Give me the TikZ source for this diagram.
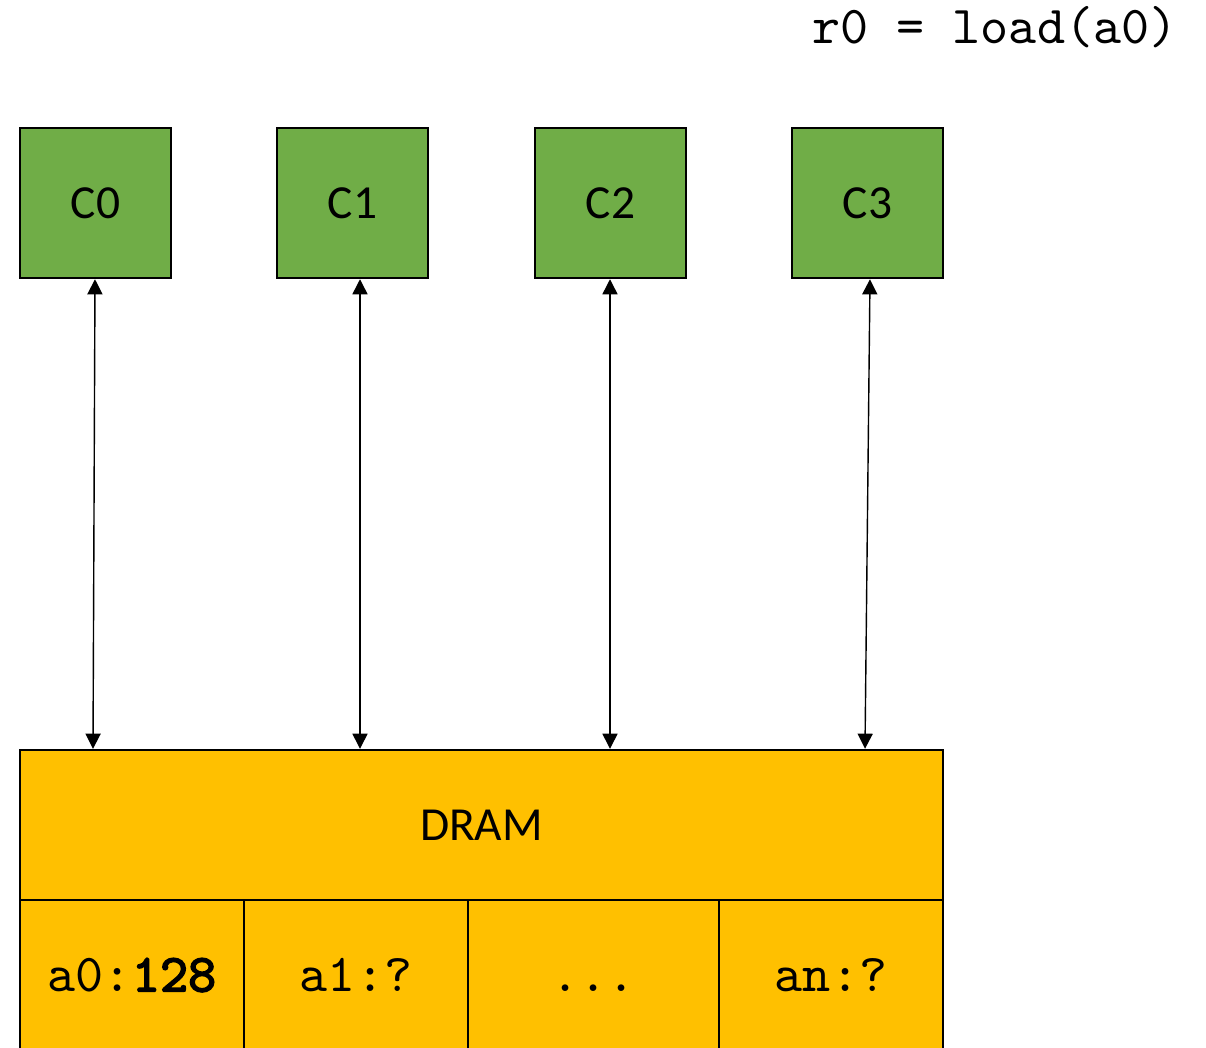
\documentclass[tikz,border=0pt]{standalone}
\usepackage{fontspec}
\setmainfont{Carlito}
\setmonofont{lmmono10-regular.otf}[BoldFont=lmmono10-regular.otf, BoldFeatures={FakeBold=3}]
\usepackage{xcolor}
\usetikzlibrary{arrows.meta}
\definecolor{coregreen}{HTML}{70AD47}
\definecolor{dramyellow}{HTML}{FFC000}

\begin{document}
\begin{tikzpicture}[>={Triangle[length=4.3pt,width=4.3pt]},
	core/.style={draw, fill=coregreen, line width=0.7pt, minimum width=1.51cm, minimum height=1.5cm, font=\fontsize{13.5}{16}\selectfont},
	mem/.style={draw, fill=dramyellow, line width=0.7pt, minimum height=1.5cm, font=\fontsize{13.5}{16}\selectfont},
	cell/.style={mem, minimum height=1.6cm, text height=0.75em, text depth=0.1em, font=\fontsize{15.2}{18}\selectfont\ttfamily}]
	\useasboundingbox (0,0) rectangle (12.06,-10.47);
	\node[font=\fontsize{15.2}{18}\selectfont\ttfamily] (instr) at (9.95,-0.27) {r0 = load(a0)};
	% cores
	\foreach \i/\x in {0/0.955, 1/3.525, 2/6.105, 3/8.675} {
		\node[core] (c\i) at (\x,-2.03) {C\i};
	}
	% memory
	\node[mem, minimum width=9.23cm] (dram) at (4.815,-8.25) {DRAM};
	\node[cell, minimum width=2.24cm] (m0) at (1.32,-9.80) {a0:\textbf{128}};
	\node[cell, minimum width=2.24cm] (m1) at (3.56,-9.80) {a1:?};
	\node[cell, minimum width=2.51cm] (m2) at (5.935,-9.80) {...};
	\node[cell, minimum width=2.24cm] (m3) at (8.31,-9.80) {an:?};
	% links
	\foreach \i/\t/\b in {0/0.95/0.93, 1/3.60/3.60, 2/6.10/6.10, 3/8.70/8.65} {
		\draw[<->, line width=0.4pt] (c\i.south -| \t,0) -- (dram.north -| \b,0);
	}
\end{tikzpicture}
\end{document}
